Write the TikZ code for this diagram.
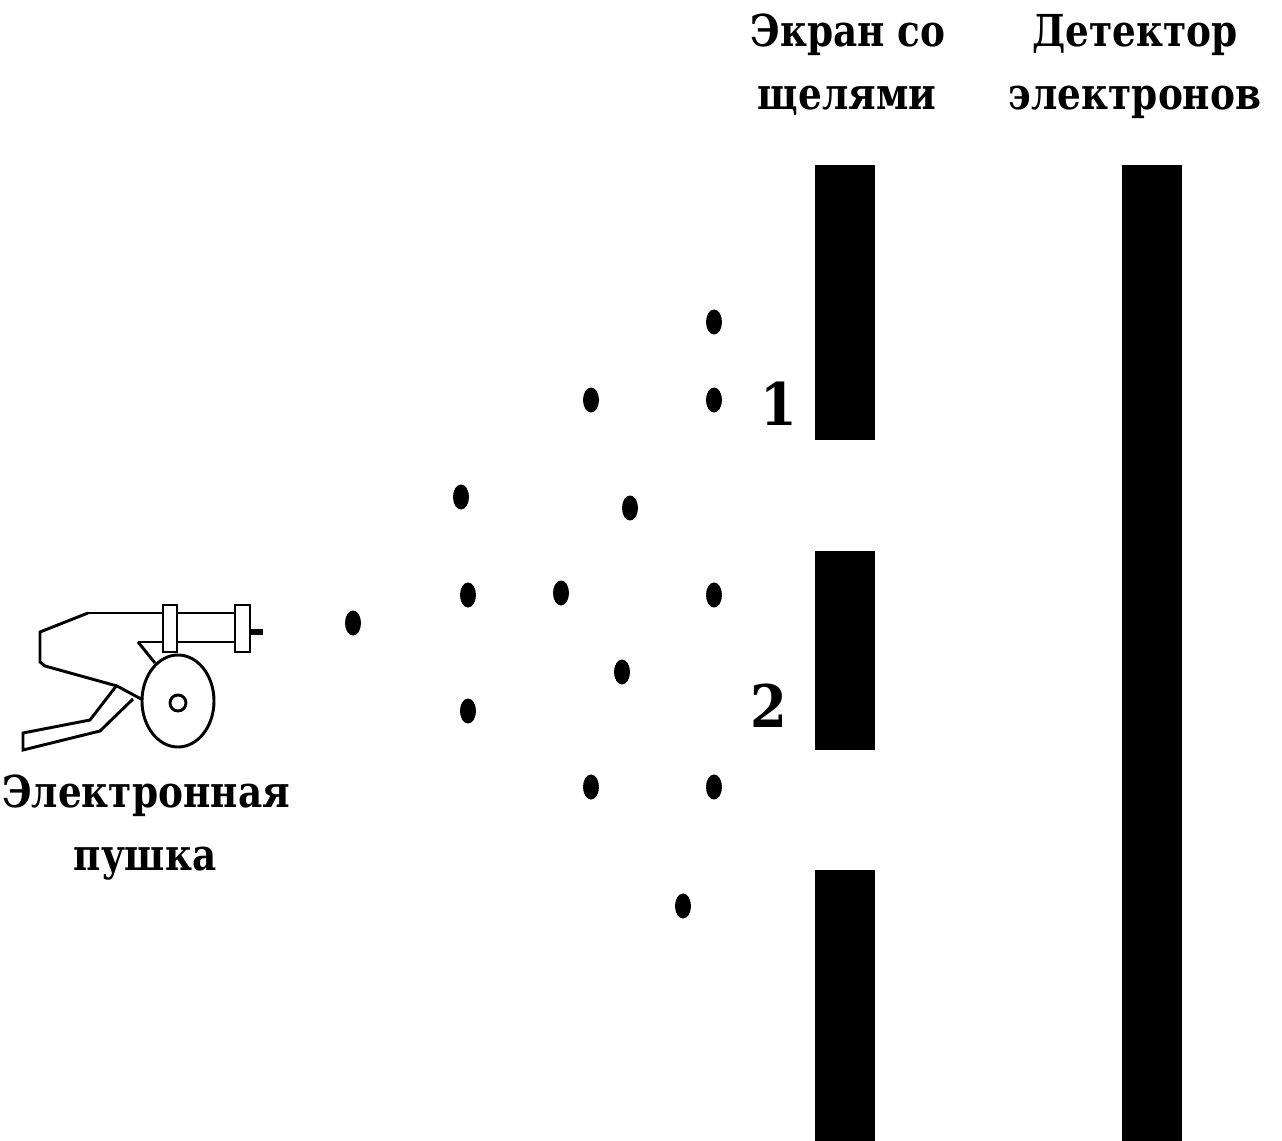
\documentclass[tikz,border=0pt]{standalone}
\usepackage{fontspec}
\setmainfont{DejaVu Serif}
\begin{document}
\begin{tikzpicture}[x=0.75pt,y=-0.75pt,
  lbl/.style={font=\fontsize{33}{40}\selectfont\bfseries, inner sep=0pt, anchor=base, xscale=0.85},
  digit/.style={font=\fontsize{44}{50}\selectfont\bfseries, inner sep=0pt, anchor=base, xscale=0.9},
  plate/.style={fill=black, draw=none},
  electron/.style={fill=black, draw=none},
  gun/.style={draw=black, line width=2.2pt, line join=miter}]
\useasboundingbox (0,0) rectangle (1282,1141);
\fill[white] (0,0) rectangle (1282,1141);

% screen with two slits
\path[plate] (815,165) rectangle (875,440);
\path[plate] (815,551) rectangle (875,750);
\path[plate] (815,870) rectangle (875,1141);
% detector
\path[plate] (1122,165) rectangle (1182,1141);

% labels
\node[lbl] (scr1) at (848,47) {Экран со};
\node[lbl] (scr2) at (847,110) {щелями};
\node[lbl] (det1) at (1135,47) {Детектор};
\node[lbl] (det2) at (1135,110) {электронов};
\node[lbl] (gun1) at (146,807) {Электронная};
\node[lbl] (gun2) at (145,870) {пушка};
\node[digit] (s1) at (779,425) {1};
\node[digit] (s2) at (769,727) {2};

% electrons in flight
\foreach \px/\py in {714/322, 591/400, 714/400, 461/497, 630/508, 353/623,
  468/595, 561/593, 714/595, 622/672, 468/711, 591/787, 714/787, 683/906}
  \path[electron] (\px,\py) ellipse [x radius=8, y radius=12.5];

% electron gun
\draw[gun] (88,613) -- (163,613) (177,613) -- (235,613);
\draw[gun] (138,642) -- (163,642) (177,642) -- (235,642);
\draw[gun] (163,605) rectangle (177,652);
\draw[gun] (235,605) rectangle (250,652);
\fill (250,629) rectangle (263,635);
\draw[gun] (88,613) -- (40,632) -- (40,662) -- (45,666) -- (117,686) -- (143,700);
\draw[gun] (138,642) -- (155,663);
\draw[gun] (178,701) ellipse [x radius=36, y radius=46];
\draw[gun] (178,703) circle [radius=6pt];
\draw[gun] (117,685) -- (90,720) -- (23,733) -- (23,750) -- (100,731) -- (133,699);
\end{tikzpicture}
\end{document}
